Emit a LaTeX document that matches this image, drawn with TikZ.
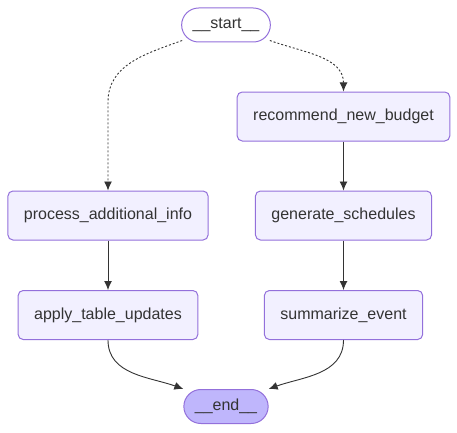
\documentclass[tikz,border=0pt]{standalone}
\usepackage{fontspec}
\setmainfont{Liberation Sans}
\usetikzlibrary{arrows.meta}

\definecolor{boxline}{HTML}{9370DB}
\definecolor{boxfill}{HTML}{F2F0FF}
\definecolor{endfill}{HTML}{BFB6FC}
\definecolor{edge}{HTML}{333333}

\begin{document}
\begin{tikzpicture}[x=1pt, y=1pt,
  every node/.style={font=\fontsize{16}{19}\selectfont, text=edge},
  stepbox/.style={draw=boxline, fill=boxfill, line width=1pt, rounded corners=5pt,
    minimum height=49pt, inner xsep=16pt},
  pill/.style={draw=boxline, line width=1pt, rounded corners=17pt,
    minimum height=34pt, inner xsep=11pt},
  flow/.style={draw=edge, line width=0.9pt, -{Latex[length=9pt, width=8pt]}}]
  \useasboundingbox (0, 0) rectangle (457, 432);
  \node[pill, fill=white] (start) at (226, 407) {\_\_start\_\_};
  \node[stepbox] (budget) at (343.5, 315.5) {recommend\_new\_budget};
  \node[stepbox] (info) at (108, 216.5) {process\_additional\_info};
  \node[stepbox] (sched) at (343.5, 216.5) {generate\_schedules};
  \node[stepbox] (table) at (108, 117) {apply\_table\_updates};
  \node[stepbox] (summ) at (343.5, 117) {summarize\_event};
  \node[pill, fill=endfill] (end) at (226, 25.5) {\_\_end\_\_};
  % dotted branches out of start
  \coordinate (bendL) at (108, 330);
  \draw[flow, dash pattern=on 2pt off 2pt] (start.south west) ++(1, 2) to[out=200, in=90] (bendL) -- (info.north);
  \draw[flow, dash pattern=on 2pt off 2pt] (start.south east) ++(-1, 2) to[out=-20, in=90] (budget.north);
  % straight steps
  \draw[flow] (budget) -- (sched);
  \draw[flow] (sched) -- (summ);
  \draw[flow] (info) -- (table);
  % into end
  \draw[flow] (table.south) to[out=-90, in=160] (end.north west);
  \draw[flow] (summ.south) to[out=-90, in=20] (end.north east);
\end{tikzpicture}
\end{document}
